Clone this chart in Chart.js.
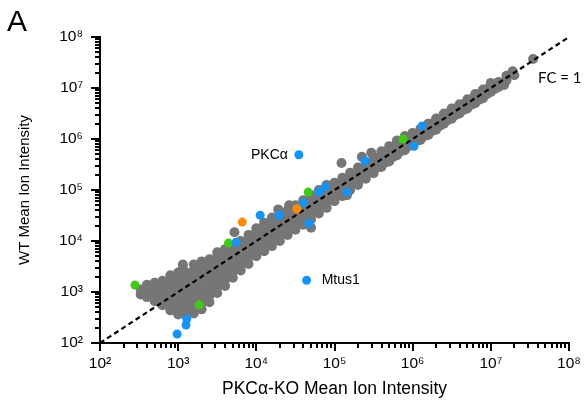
<!DOCTYPE html>
<html>
<head>
<meta charset="utf-8">
<script src="https://cdn.jsdelivr.net/npm/chart.js@4"></script>
<style>
  body { margin: 0; background: #fff; }
</style>
</head>
<body>
<canvas id="grafico" width="586" height="400"></canvas>
<script>
// Tick labels (powers of ten, 10^2 .. 10^8)
const tickLabels = ["10²", "10³", "10⁴", "10⁵", "10⁶", "10⁷", "10⁸"];

// Gray proteins: [log10 KO intensity, log10 WT intensity]
const grayPoints = [
  [2.52,2.95],[2.52,3.05],
  [2.6,2.9],[2.6,3.02],[2.6,3.14],
  [2.7,2.82],[2.7,2.94],[2.7,3.06],[2.7,3.18],
  [2.8,2.74],[2.8,2.86],[2.8,2.98],[2.8,3.1],[2.8,3.22],
  [2.9,2.64],[2.9,2.76],[2.9,2.88],[2.9,3.0],[2.9,3.12],[2.9,3.24],[2.9,3.33],
  [3.0,2.56],[3.0,2.68],[3.0,2.8],[3.0,2.92],[3.0,3.04],[3.0,3.16],[3.0,3.28],[3.0,3.38],
  [3.06,3.46],[3.06,3.54],
  [3.1,2.54],[3.1,2.66],[3.1,2.78],[3.1,2.9],[3.1,3.02],[3.1,3.14],[3.1,3.26],[3.1,3.38],
  [3.2,2.58],[3.2,2.7],[3.2,2.82],[3.2,2.94],[3.2,3.06],[3.2,3.18],[3.2,3.3],[3.2,3.42],[3.2,3.54],
  [3.3,2.66],[3.3,2.78],[3.3,2.9],[3.3,3.02],[3.3,3.14],[3.3,3.26],[3.3,3.38],[3.3,3.5],[3.3,3.6],
  [3.4,2.8],[3.4,2.92],[3.4,3.04],[3.4,3.16],[3.4,3.28],[3.4,3.4],[3.4,3.52],[3.4,3.64],
  [3.5,2.98],[3.5,3.1],[3.5,3.22],[3.5,3.34],[3.5,3.46],[3.5,3.58],[3.5,3.7],[3.5,3.78],
  [3.6,3.12],[3.6,3.24],[3.6,3.36],[3.6,3.48],[3.6,3.6],[3.6,3.72],[3.6,3.84],
  [3.7,3.28],[3.7,3.4],[3.7,3.52],[3.7,3.64],[3.7,3.76],[3.7,3.88],[3.72,4.17],
  [3.8,3.42],[3.8,3.54],[3.8,3.66],[3.8,3.78],[3.8,3.9],[3.8,4.0],
  [3.9,3.55],[3.9,3.67],[3.9,3.79],[3.9,3.91],[3.9,4.03],[3.9,4.12],
  [4.0,3.7],[4.0,3.82],[4.0,3.94],[4.0,4.06],[4.0,4.18],[4.0,4.25],
  [4.1,3.8],[4.1,3.92],[4.1,4.04],[4.1,4.16],[4.1,4.28],[4.1,4.36],
  [4.2,3.9],[4.2,4.02],[4.2,4.14],[4.2,4.26],[4.2,4.38],[4.2,4.46],
  [4.28,4.62],
  [4.3,4.0],[4.3,4.12],[4.3,4.24],[4.3,4.36],[4.3,4.48],[4.3,4.56],
  [4.4,4.12],[4.4,4.24],[4.4,4.36],[4.4,4.48],[4.4,4.6],[4.42,4.7],
  [4.5,4.22],[4.5,4.34],[4.5,4.46],[4.5,4.58],[4.5,4.7],
  [4.6,4.32],[4.6,4.44],[4.6,4.56],[4.6,4.68],[4.6,4.8],
  [4.7,4.26],[4.7,4.42],[4.7,4.54],[4.7,4.66],[4.7,4.78],[4.7,4.9],
  [4.8,4.54],[4.8,4.66],[4.8,4.78],[4.8,4.9],[4.8,5.0],
  [4.85,4.72],[4.85,4.92],
  [4.9,4.65],[4.9,4.77],[4.9,4.89],[4.9,5.01],[4.9,5.1],
  [4.95,4.82],[4.95,5.02],
  [5.0,4.78],[5.0,4.9],[5.0,5.02],[5.0,5.14],
  [5.05,4.92],[5.05,5.1],
  [5.09,5.53],
  [5.1,4.88],[5.1,5.0],[5.1,5.12],[5.1,5.24],[5.16,4.9],
  [5.15,5.02],[5.15,5.2],
  [5.2,5.0],[5.2,5.12],[5.2,5.24],[5.2,5.34],
  [5.25,5.12],[5.25,5.3],
  [5.3,5.1],[5.3,5.22],[5.3,5.34],[5.3,5.44],
  [5.35,5.65],[5.35,5.22],[5.35,5.4],
  [5.4,5.22],[5.4,5.34],[5.4,5.46],[5.4,5.55],
  [5.45,5.34],[5.45,5.52],
  [5.47,5.73],
  [5.5,5.33],[5.5,5.45],[5.5,5.57],[5.5,5.65],
  [5.55,5.44],[5.55,5.62],
  [5.6,5.45],[5.6,5.57],[5.6,5.69],[5.6,5.76],
  [5.65,5.54],[5.65,5.72],
  [5.7,5.56],[5.7,5.68],[5.7,5.8],[5.7,5.86],
  [5.75,5.65],[5.75,5.83],
  [5.8,5.68],[5.8,5.8],[5.8,5.92],[5.8,5.97],
  [5.85,5.76],[5.85,5.93],
  [5.9,5.78],[5.9,5.9],[5.9,6.02],[5.9,6.06],
  [5.95,5.86],[5.95,6.03],
  [6.0,5.88],[6.0,6.0],[6.0,6.12],
  [6.05,5.96],[6.05,6.1],
  [6.1,5.98],[6.1,6.1],[6.1,6.2],
  [6.15,6.06],[6.15,6.2],
  [6.2,6.08],[6.2,6.2],[6.2,6.3],
  [6.25,6.16],[6.25,6.3],
  [6.3,6.18],[6.3,6.3],[6.3,6.4],
  [6.35,6.26],[6.35,6.4],
  [6.4,6.3],[6.4,6.42],[6.4,6.5],
  [6.45,6.37],[6.45,6.5],
  [6.5,6.4],[6.5,6.52],[6.5,6.6],
  [6.55,6.47],[6.55,6.6],
  [6.6,6.5],[6.6,6.62],[6.6,6.68],
  [6.65,6.57],[6.65,6.68],
  [6.7,6.6],[6.7,6.72],[6.7,6.78],
  [6.75,6.67],[6.75,6.78],
  [6.8,6.7],[6.8,6.8],[6.8,6.88],
  [6.85,6.77],[6.85,6.88],
  [6.9,6.8],[6.9,6.9],[6.9,6.97],
  [6.95,6.88],[6.95,6.98],
  [7.0,6.92],[7.0,7.02],[7.0,7.1],
  [7.05,6.98],[7.05,7.08],
  [7.1,7.02],[7.1,7.12],[7.17,7.06],
  [7.2,7.15],[7.2,7.24],
  [7.28,7.33],[7.3,7.25],
  [7.54,7.57]
];

// Highlighted proteins: [KO intensity, WT intensity]
const bluePoints = [
  [3.5e4, 4.9e5],   // PKCα
  [4.4e4, 1.7e3],   // Mtus1
  [9.7e2, 1.5e2], [1.26e3, 2.25e2], [1.29e3, 2.95e2],
  [5.5e3, 9.5e3], [1.12e4, 3.2e4], [1.95e4, 3.2e4],
  [4.0e4, 5.6e4], [4.7e4, 2.2e4], [6.3e4, 9.1e4],
  [7.6e4, 1.15e5], [1.44e5, 9.1e4], [2.45e5, 3.7e5],
  [1.32e6, 1.8e6], [1.04e6, 7.2e5]
];
const greenPoints = [
  [2.8e2, 1.37e3], [1.85e3, 5.6e2], [4.4e3, 9.1e3],
  [4.6e4, 9.1e4], [7.5e5, 1.0e6]
];
const orangePoints = [
  [6.6e3, 2.35e4], [3.3e4, 4.3e4]
];
const identityLine = [[1e2, 1e2], [1e8, 1e8]];

const toXY = (arr) => arr.map(p => ({ x: p[0], y: p[1] }));
const grayData = grayPoints.map(p => ({ x: Math.pow(10, p[0]), y: Math.pow(10, p[1]) }));

const FONT = "'Liberation Sans', Arial, Helvetica, sans-serif";
Chart.defaults.font.family = FONT;
Chart.defaults.color = '#000';

function isDecade(v) {
  const p = Math.log10(v);
  return Math.abs(p - Math.round(p)) < 1e-9;
}

// all 1..9 x 10^k positions, labels only on decades
function logTicks(scale) {
  const ticks = [];
  for (let k = 2; k < 8; k++) {
    for (let m = 1; m < 10; m++) ticks.push({ value: m * Math.pow(10, k) });
  }
  ticks.push({ value: 1e8 });
  scale.ticks = ticks;
}

// outward tick marks, long on decades and short in between
const tickMarks = {
  id: 'tickMarks',
  afterDraw(chart) {
    const ctx = chart.ctx;
    const xs = chart.scales.x, ys = chart.scales.y;
    const a = chart.chartArea;
    ctx.save();
    ctx.strokeStyle = '#000';
    ctx.lineWidth = 2;
    xs.ticks.forEach(t => {
      const px = Math.round(xs.getPixelForValue(t.value));
      const len = isDecade(t.value) ? 8 : 5;
      ctx.beginPath();
      ctx.moveTo(px, a.bottom);
      ctx.lineTo(px, a.bottom + len);
      ctx.stroke();
    });
    ys.ticks.forEach(t => {
      const py = Math.round(ys.getPixelForValue(t.value));
      const len = isDecade(t.value) ? 9 : 5;
      ctx.beginPath();
      ctx.moveTo(a.left, py);
      ctx.lineTo(a.left - len, py);
      ctx.stroke();
    });
    ctx.restore();
  }
};

// text annotations
const notes = {
  id: 'notes',
  afterDraw(chart) {
    const ctx = chart.ctx;
    const xs = chart.scales.x, ys = chart.scales.y;
    ctx.save();
    ctx.fillStyle = '#000';
    ctx.font = '30px ' + FONT;
    ctx.textAlign = 'left';
    ctx.textBaseline = 'top';
    ctx.fillText('A', 7, 8);

    ctx.font = '14px ' + FONT;
    ctx.textBaseline = 'middle';
    ctx.textAlign = 'right';
    ctx.fillText('PKCα', xs.getPixelForValue(bluePoints[0][0]) - 11, ys.getPixelForValue(bluePoints[0][1]));
    ctx.textAlign = 'left';
    ctx.fillText('Mtus1', xs.getPixelForValue(bluePoints[1][0]) + 15, ys.getPixelForValue(bluePoints[1][1]));

    ctx.font = "15px Lato, 'Open Sans', sans-serif";
    ctx.fillText('FC = 1', chart.chartArea.right - 31, chart.chartArea.top + 41);
    ctx.restore();
  }
};

const ctxGrafico = document.getElementById('grafico').getContext('2d');
new Chart(ctxGrafico, {
  type: 'scatter',
  data: {
    datasets: [
      { label: 'Blue', data: toXY(bluePoints), backgroundColor: '#1792F5', pointRadius: 4.5, borderWidth: 0, order: 0 },
      { label: 'Green', data: toXY(greenPoints), backgroundColor: '#3DCB15', pointRadius: 4.5, borderWidth: 0, order: 0 },
      { label: 'Orange', data: toXY(orangePoints), backgroundColor: '#FF8A0A', pointRadius: 4.5, borderWidth: 0, order: 0 },
      {
        label: 'FC = 1', type: 'line', data: toXY(identityLine), showLine: true,
        borderColor: '#000', borderWidth: 2.2, borderDash: [5, 3.5], pointRadius: 0, fill: false, order: 1
      },
      { label: 'Other', data: grayData, backgroundColor: '#767676', pointRadius: 5, borderWidth: 0, order: 2 }
    ]
  },
  options: {
    responsive: false,
    animation: false,
    layout: { padding: { top: 37, right: 17, left: 0, bottom: 0 } },
    plugins: {
      legend: { display: false },
      tooltip: { enabled: false }
    },
    scales: {
      x: {
        type: 'logarithmic',
        min: 1e2, max: 1e8,
        afterBuildTicks: logTicks,
        afterFit: (s) => { s.height = 57; },
        border: { display: true, color: '#000', width: 2 },
        grid: { drawOnChartArea: false, drawTicks: true, tickLength: 8, tickColor: 'rgba(0,0,0,0)' },
        ticks: {
          autoSkip: false, maxRotation: 0, padding: 3,
          font: { size: 15.5 },
          callback: (v) => isDecade(v) ? tickLabels[Math.round(Math.log10(v)) - 2] : ''
        },
        title: { display: true, text: 'PKCα-KO Mean Ion Intensity', font: { size: 17.5 }, padding: { top: 0, bottom: 0 } }
      },
      y: {
        type: 'logarithmic',
        min: 1e2, max: 1e8,
        afterBuildTicks: logTicks,
        afterFit: (s) => { s.width = 100; },
        border: { display: true, color: '#000', width: 2 },
        grid: { drawOnChartArea: false, drawTicks: true, tickLength: 9, tickColor: 'rgba(0,0,0,0)' },
        ticks: {
          autoSkip: false, padding: 8,
          font: { size: 15.5 },
          callback: (v) => isDecade(v) ? tickLabels[Math.round(Math.log10(v)) - 2] : ''
        },
        title: { display: true, text: 'WT Mean Ion Intensity', font: { size: 15 }, padding: { top: 16, bottom: 16 } }
      }
    }
  },
  plugins: [tickMarks, notes]
});
</script>
</body>
</html>
